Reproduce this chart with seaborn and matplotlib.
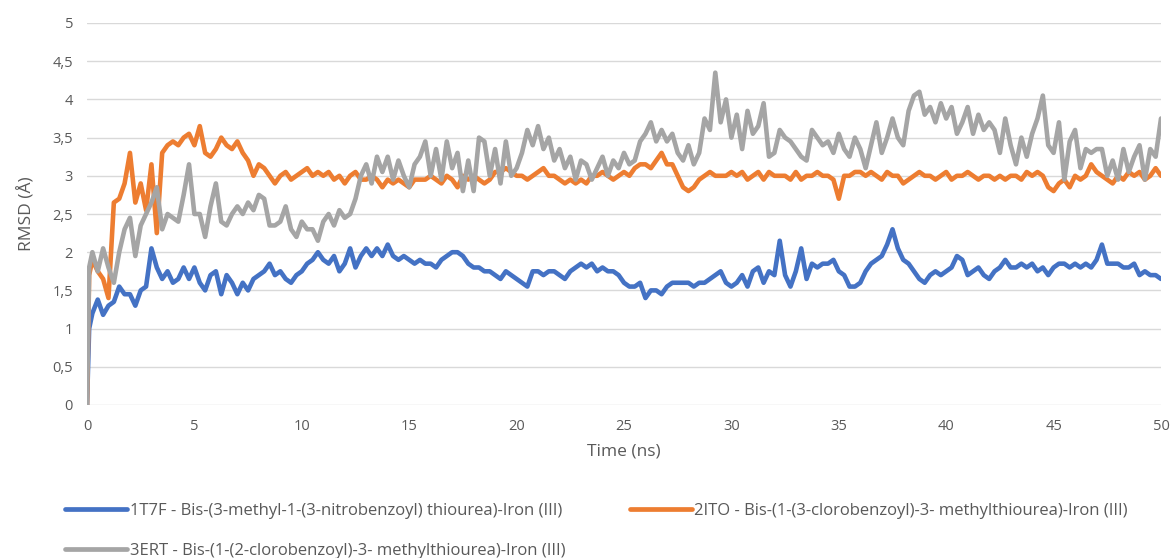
import numpy as np
import pandas as pd
import matplotlib
matplotlib.use("Agg")
import matplotlib.pyplot as plt
import seaborn as sns
from matplotlib.ticker import FuncFormatter, MultipleLocator
from matplotlib.lines import Line2D

# time axis (ns)
time_ns = np.concatenate([[0.0, 0.1], np.arange(0.25, 50.001, 0.25)])

series_names = [
    "1T7F - Bis-(3-methyl-1-(3-nitrobenzoyl) thiourea)-Iron (III)",
    "2ITO - Bis-(1-(3-clorobenzoyl)-3- methylthiourea)-Iron (III)",
    "3ERT - Bis-(1-(2-clorobenzoyl)-3- methylthiourea)-Iron (III)",
]

rmsd_1t7f = [
    0.0, 1.0,
    1.2, 1.38, 1.18, 1.3, 1.35, 1.55, 1.45, 1.45, 1.3, 1.5, 1.55, 2.05,
    1.8, 1.65, 1.75, 1.6, 1.65, 1.8, 1.65, 1.8, 1.6, 1.5, 1.7, 1.75,
    1.45, 1.7, 1.6, 1.45, 1.6, 1.5, 1.65, 1.7, 1.75, 1.85, 1.7, 1.75,
    1.65, 1.6, 1.7, 1.75, 1.85, 1.9, 2.0, 1.9, 1.85, 1.95, 1.75, 1.85,
    2.05, 1.8, 1.95, 2.05, 1.95, 2.05, 1.95, 2.1, 1.95, 1.9, 1.95, 1.9,
    1.85, 1.9, 1.85, 1.85, 1.8, 1.9, 1.95, 2.0, 2.0, 1.95, 1.85, 1.8,
    1.8, 1.75, 1.75, 1.7, 1.65, 1.75, 1.7, 1.65, 1.6, 1.55, 1.75, 1.75,
    1.7, 1.75, 1.75, 1.7, 1.65, 1.75, 1.8, 1.85, 1.8, 1.85, 1.75, 1.8,
    1.75, 1.75, 1.7, 1.6, 1.55, 1.55, 1.6, 1.4, 1.5, 1.5, 1.45, 1.55,
    1.6, 1.6, 1.6, 1.6, 1.55, 1.6, 1.6, 1.65, 1.7, 1.75, 1.6, 1.55,
    1.6, 1.7, 1.55, 1.75, 1.8, 1.6, 1.75, 1.7, 2.15, 1.7, 1.55, 1.75,
    2.05, 1.65, 1.85, 1.8, 1.85, 1.85, 1.9, 1.75, 1.7, 1.55, 1.55, 1.6,
    1.75, 1.85, 1.9, 1.95, 2.1, 2.3, 2.05, 1.9, 1.85, 1.75, 1.65, 1.6,
    1.7, 1.75, 1.7, 1.75, 1.8, 1.95, 1.9, 1.7, 1.75, 1.8, 1.7, 1.65,
    1.75, 1.8, 1.9, 1.8, 1.8, 1.85, 1.8, 1.85, 1.75, 1.8, 1.7, 1.8,
    1.85, 1.85, 1.8, 1.85, 1.8, 1.85, 1.8, 1.9, 2.1, 1.85, 1.85, 1.85,
    1.8, 1.8, 1.85, 1.7, 1.75, 1.7, 1.7, 1.65,
]

rmsd_2ito = [
    0.0, 1.7,
    1.9, 1.75, 1.65, 1.4, 2.65, 2.7, 2.9, 3.3, 2.65, 2.9, 2.55, 3.15,
    2.25, 3.3, 3.4, 3.45, 3.4, 3.5, 3.55, 3.4, 3.65, 3.3, 3.25, 3.35,
    3.5, 3.4, 3.35, 3.45, 3.3, 3.2, 3.0, 3.15, 3.1, 3.0, 2.9, 3.0,
    3.05, 2.95, 3.0, 3.05, 3.1, 3.0, 3.05, 3.0, 3.05, 2.95, 3.0, 2.9,
    3.0, 3.05, 2.95, 2.95, 3.0, 2.95, 2.85, 2.95, 2.9, 2.95, 2.9, 2.85,
    2.95, 2.95, 2.95, 3.0, 2.95, 2.9, 3.0, 2.95, 2.85, 3.0, 2.95, 3.0,
    2.95, 2.9, 2.95, 3.05, 3.05, 3.1, 3.05, 3.0, 3.0, 2.95, 3.0, 3.05,
    3.1, 3.0, 3.0, 2.95, 2.9, 2.95, 2.9, 2.95, 2.9, 3.0, 3.0, 3.05,
    3.0, 2.95, 3.0, 3.05, 3.0, 3.1, 3.15, 3.15, 3.1, 3.2, 3.3, 3.15,
    3.15, 3.0, 2.85, 2.8, 2.85, 2.95, 3.0, 3.05, 3.0, 3.0, 3.0, 3.05,
    3.0, 3.05, 2.95, 3.0, 3.05, 2.95, 3.05, 3.0, 3.0, 3.0, 2.95, 3.05,
    2.95, 3.0, 3.0, 3.05, 3.0, 3.0, 2.95, 2.7, 3.0, 3.0, 3.05, 3.05,
    3.0, 3.05, 3.0, 2.95, 3.05, 3.0, 3.0, 2.9, 2.95, 3.0, 3.05, 3.0,
    3.0, 2.95, 3.0, 3.05, 2.95, 3.0, 3.0, 3.05, 3.0, 2.95, 3.0, 3.0,
    2.95, 3.0, 2.95, 3.0, 3.0, 2.95, 3.05, 3.0, 3.05, 3.0, 2.85, 2.8,
    2.9, 2.95, 2.85, 3.0, 2.95, 3.0, 3.15, 3.05, 3.0, 2.95, 2.9, 3.0,
    2.95, 3.05, 3.0, 3.05, 2.95, 3.0, 3.1, 3.0,
]

rmsd_3ert = [
    0.0, 1.8,
    2.0, 1.75, 2.05, 1.8, 1.6, 2.0, 2.3, 2.45, 1.95, 2.35, 2.5, 2.65,
    2.85, 2.3, 2.5, 2.45, 2.4, 2.75, 3.15, 2.5, 2.5, 2.2, 2.6, 2.9,
    2.4, 2.35, 2.5, 2.6, 2.5, 2.65, 2.55, 2.75, 2.7, 2.35, 2.35, 2.4,
    2.6, 2.3, 2.2, 2.4, 2.3, 2.3, 2.15, 2.4, 2.5, 2.35, 2.55, 2.45,
    2.5, 2.7, 3.0, 3.15, 2.9, 3.25, 3.05, 3.25, 2.95, 3.2, 3.0, 2.85,
    3.15, 3.25, 3.45, 3.0, 3.35, 2.95, 3.45, 3.1, 3.3, 2.8, 3.2, 2.8,
    3.5, 3.45, 3.0, 3.35, 2.9, 3.45, 3.0, 3.1, 3.3, 3.6, 3.4, 3.65,
    3.35, 3.5, 3.2, 3.35, 3.1, 3.25, 2.95, 3.2, 3.15, 2.95, 3.1, 3.25,
    3.0, 3.2, 3.1, 3.3, 3.15, 3.2, 3.45, 3.55, 3.7, 3.45, 3.6, 3.45,
    3.55, 3.3, 3.2, 3.4, 3.15, 3.3, 3.75, 3.6, 4.35, 3.7, 4.0, 3.5,
    3.8, 3.35, 3.85, 3.55, 3.65, 3.95, 3.25, 3.3, 3.6, 3.5, 3.45, 3.35,
    3.25, 3.2, 3.6, 3.5, 3.4, 3.45, 3.3, 3.55, 3.35, 3.25, 3.5, 3.35,
    3.1, 3.4, 3.7, 3.3, 3.5, 3.75, 3.5, 3.4, 3.85, 4.05, 4.1, 3.8,
    3.9, 3.7, 3.95, 3.75, 3.9, 3.55, 3.7, 3.9, 3.55, 3.8, 3.6, 3.7,
    3.6, 3.3, 3.75, 3.4, 3.15, 3.5, 3.25, 3.55, 3.75, 4.05, 3.4, 3.3,
    3.7, 2.95, 3.45, 3.6, 3.1, 3.35, 3.3, 3.35, 3.35, 3.0, 3.2, 2.95,
    3.35, 3.05, 3.25, 3.4, 2.95, 3.35, 3.25, 3.75,
]

colors = ["#4472C4", "#ED7D31", "#A5A5A5"]

df = pd.concat([
    pd.DataFrame({"Time": time_ns, "RMSD": vals, "System": name})
    for name, vals in zip(series_names, [rmsd_1t7f, rmsd_2ito, rmsd_3ert])
], ignore_index=True)

sns.set_theme(style="white")
plt.rcParams["font.family"] = ["Open Sans", "DejaVu Sans"]

fig = plt.figure(figsize=(11.72, 5.58), dpi=100)
ax = fig.add_axes([87 / 1172, 1 - 405 / 558, (1161 - 87) / 1172, (405 - 23) / 558])

sns.lineplot(data=df, x="Time", y="RMSD", hue="System", hue_order=series_names,
             palette=colors, linewidth=3.3, ax=ax, legend=False, sort=False,
             estimator=None)

ax.set_xlim(0, 50)
ax.set_ylim(0, 5)
ax.xaxis.set_major_locator(MultipleLocator(5))
ax.yaxis.set_major_locator(MultipleLocator(0.5))
ax.yaxis.set_major_formatter(FuncFormatter(lambda v, p: (f"{v:g}").replace(".", ",")))
ax.grid(axis="y", color="#D9D9D9", linewidth=1.0)
ax.grid(axis="x", visible=False)
ax.set_axisbelow(True)
for s in ax.spines.values():
    s.set_visible(False)
ax.tick_params(axis="both", length=0, labelsize=10.5, colors="#595959", pad=10)
ax.set_xlabel("Time (ns)", fontsize=12.5, color="#595959", labelpad=7)
ax.set_ylabel("RMSD (Å)", fontsize=12.5, color="#595959", labelpad=12)

handles = [Line2D([], [], color=c, linewidth=3.4) for c in colors]
order = [0, 2, 1]  # column-major fill -> row 1: series 1, 2; row 2: series 3
leg = fig.legend([handles[i] for i in order], [series_names[i] for i in order],
                 loc="upper left", ncol=2,
                 bbox_to_anchor=(0.043, 0.125), frameon=False,
                 handlelength=3.7, handletextpad=0.15,
                 columnspacing=3.9, labelspacing=1.4,
                 prop={"family": ["Open Sans", "DejaVu Sans"], "size": 12})
for t in leg.get_texts():
    t.set_color("#595959")

fig.savefig("out.png", dpi=100)
